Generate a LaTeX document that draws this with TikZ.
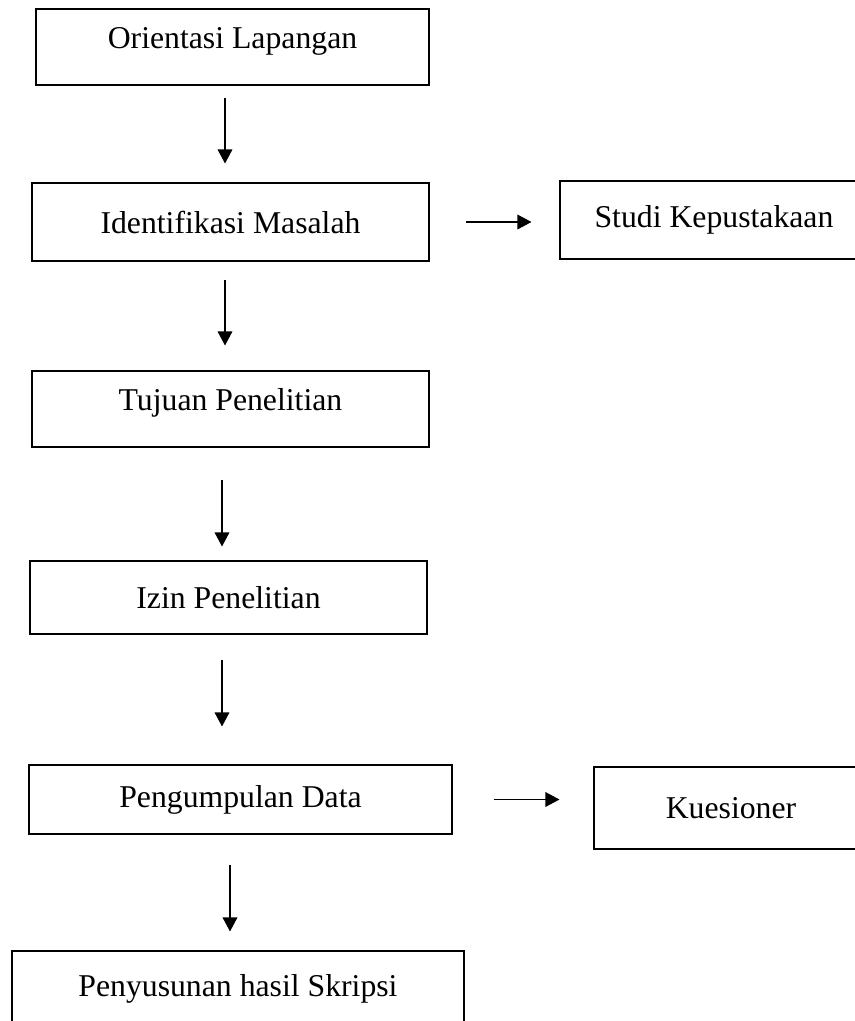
\documentclass[tikz,border=0pt]{standalone}
\usepackage{fontspec}
\setmainfont{Liberation Serif}
\usepackage{tikz}
\usetikzlibrary{arrows.meta,positioning}

\begin{document}
\begin{tikzpicture}[
    x=0.75pt,y=-0.75pt,
    stepbox/.style={draw, line width=0.8pt, align=center, inner sep=0pt,
                  font=\fontsize{23.8}{28}\selectfont},
    raised/.style={text depth=14pt},
    arrow/.style={-{Triangle[length=10.5pt,width=11pt]}, line width=0.8pt}
]
\clip (0,0) rectangle (855,1021);

\node[stepbox, raised, minimum width=393*0.75pt, minimum height=76*0.75pt] (orient) at (232.5,47) {Orientasi Lapangan};
\node[stepbox, minimum width=397*0.75pt, minimum height=78*0.75pt] (ident) at (230.5,222) {Identifikasi Masalah};
\node[stepbox, minimum width=308*0.75pt, minimum height=78*0.75pt] (studi) at (714,220) {Studi Kepustakaan};
\node[stepbox, raised, minimum width=397*0.75pt, minimum height=76*0.75pt] (tujuan) at (230.5,409) {Tujuan Penelitian};
\node[stepbox, minimum width=397*0.75pt, minimum height=73*0.75pt] (izin) at (228.5,597.5) {Izin Penelitian};
\node[stepbox, minimum width=423*0.75pt, minimum height=69*0.75pt] (kumpul) at (240.5,799.5) {Pengumpulan Data};
\node[stepbox, minimum width=274*0.75pt, minimum height=82*0.75pt] (kuesioner) at (731,808) {Kuesioner};
\node[stepbox, minimum width=452*0.75pt, minimum height=76*0.75pt] (susun) at (238,989) {Penyusunan hasil Skripsi};

\draw[arrow, shorten <=9pt, shorten >=14.25pt] ([xshift=-5.625pt]orient.south) -- ([xshift=-4.125pt]ident.north);
\draw[arrow, shorten <=13.5pt, shorten >=18.75pt] ([xshift=-4.125pt]ident.south) -- ([xshift=-4.125pt]tujuan.north);
\draw[arrow, shorten <=24pt, shorten >=10.5pt] ([xshift=-6.375pt]tujuan.south) -- ([xshift=-4.875pt]izin.north);
\draw[arrow, shorten <=18.75pt, shorten >=28.5pt] ([xshift=-4.875pt]izin.south) -- ([xshift=-13.875pt]kumpul.north);
\draw[arrow, shorten <=22.5pt, shorten >=14.25pt] ([xshift=-7.875pt]kumpul.south) -- ([xshift=-6pt]susun.north);

\draw[arrow, shorten <=27pt, shorten >=21pt] (ident.east) -- (ident.east -| studi.west);
\draw[arrow, shorten <=30.75pt, shorten >=25.5pt] (kumpul.east) -- (kumpul.east -| kuesioner.west);
\end{tikzpicture}
\end{document}
